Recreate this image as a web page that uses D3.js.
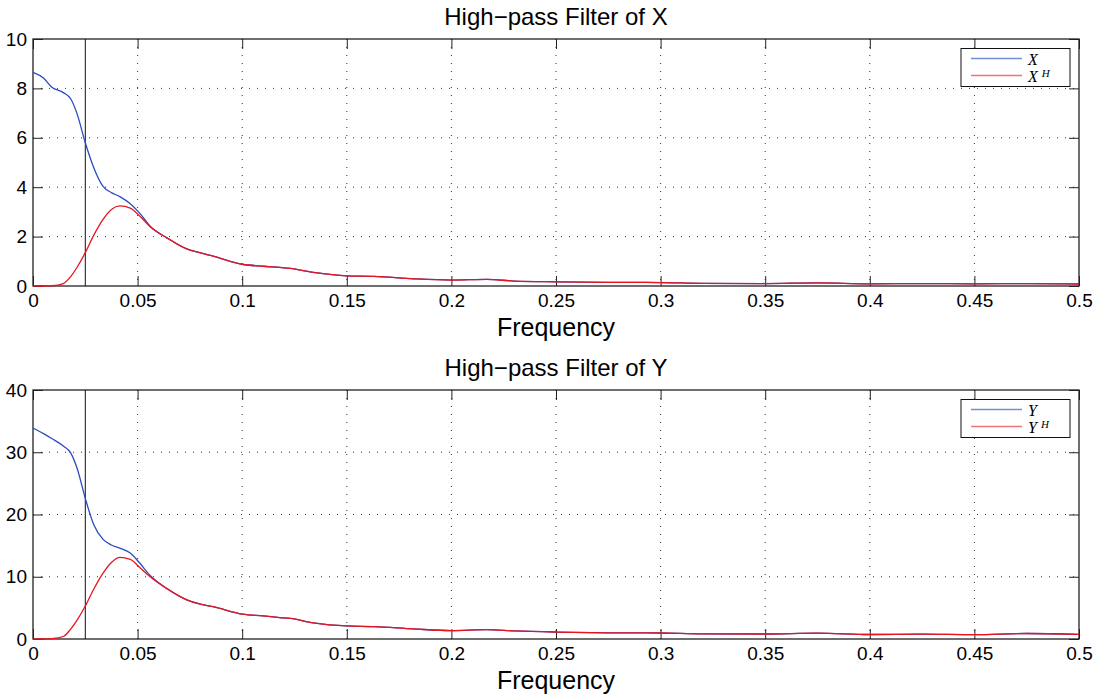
<!DOCTYPE html>
<html>
<head>
<meta charset="utf-8">
<script src="https://cdn.jsdelivr.net/npm/d3@7"></script>
<style>
body { margin: 0; background: #fff; }
text { font-family: "Liberation Sans", Arial, sans-serif; fill: #000; }
.tick text { font-size: 19px; }
.grid line { stroke: #333; stroke-width: 1; stroke-dasharray: 1,7; }
.legend text { font-family: "Liberation Serif", "Times New Roman", serif; font-style: italic; }
</style>
</head>
<body>
<div id="chart"></div>
<script>
// sampled frequencies (shared by both panels)
var freq = [0, 0.005, 0.009, 0.0145, 0.018, 0.021, 0.025, 0.029, 0.0335, 0.0375, 0.0415, 0.0465,
  0.051, 0.056, 0.064, 0.0735, 0.08, 0.0865, 0.1, 0.11, 0.118, 0.123, 0.134, 0.15, 0.163, 0.182,
  0.2, 0.217, 0.23, 0.25, 0.275, 0.3, 0.32, 0.35, 0.375, 0.4, 0.425, 0.45, 0.475, 0.5];

var xSpec = [8.65, 8.42, 8.05, 7.83, 7.58, 6.99, 5.8, 4.8, 4.03, 3.78, 3.62, 3.33,
  2.95, 2.42, 1.95, 1.5, 1.34, 1.2, 0.88, 0.8, 0.75, 0.71, 0.55, 0.41, 0.39, 0.29,
  0.24, 0.27, 0.2, 0.17, 0.15, 0.14, 0.11, 0.1, 0.13, 0.09, 0.1, 0.09, 0.1, 0.08];
var xHigh = [0, 0, 0.01, 0.1, 0.38, 0.75, 1.35, 2.05, 2.7, 3.1, 3.24, 3.15,
  2.83, 2.4, 1.95, 1.5, 1.34, 1.2, 0.88, 0.8, 0.75, 0.71, 0.55, 0.41, 0.39, 0.29,
  0.24, 0.27, 0.2, 0.17, 0.15, 0.14, 0.11, 0.1, 0.13, 0.09, 0.1, 0.09, 0.1, 0.08];

var ySpec = [33.9, 33.0, 32.2, 31.0, 29.9, 27.5, 22.6, 18.4, 16.0, 15.1, 14.6, 13.8,
  12.2, 10.2, 8.1, 6.3, 5.6, 5.15, 4.0, 3.7, 3.45, 3.3, 2.6, 2.1, 2.0, 1.62,
  1.35, 1.5, 1.3, 1.12, 1.0, 0.96, 0.82, 0.8, 0.95, 0.72, 0.78, 0.7, 0.88, 0.75];
var yHigh = [0, 0, 0.05, 0.4, 1.6, 3.0, 5.3, 8.0, 10.6, 12.3, 13.1, 12.8,
  11.5, 10.0, 8.1, 6.3, 5.6, 5.15, 4.0, 3.7, 3.45, 3.3, 2.6, 2.1, 2.0, 1.62,
  1.35, 1.5, 1.3, 1.12, 1.0, 0.96, 0.82, 0.8, 0.95, 0.72, 0.78, 0.7, 0.88, 0.75];

var xTicks = [0, 0.05, 0.1, 0.15, 0.2, 0.25, 0.3, 0.35, 0.4, 0.45, 0.5];
var cutoff = 0.025;

var width = 1102, height = 700;
var svg = d3.select("#chart").append("svg")
  .attr("width", width).attr("height", height);

function makePanel(top, bottom, yMax, yTicks, orig, high, title, name) {
  var left = 33, right = 1079;
  var x = d3.scaleLinear().domain([0, 0.5]).range([left, right]);
  var y = d3.scaleLinear().domain([0, yMax]).range([bottom, top]);
  var g = svg.append("g");

  // grid
  var grid = g.append("g").attr("class", "grid");
  grid.selectAll(".gx").data(xTicks.slice(1, -1)).enter().append("line")
    .attr("x1", d => x(d)).attr("x2", d => x(d)).attr("y1", top).attr("y2", bottom);
  grid.selectAll(".gy").data(yTicks.slice(1, -1)).enter().append("line")
    .attr("x1", left).attr("x2", right).attr("y1", d => y(d)).attr("y2", d => y(d));

  // axes, ticks pointing inward
  g.append("g").attr("transform", "translate(0," + bottom + ")")
    .call(d3.axisBottom(x).tickValues(xTicks).tickFormat(d3.format("")).tickSizeInner(-10).tickSizeOuter(0).tickPadding(8));
  g.append("g").attr("transform", "translate(0," + top + ")")
    .call(d3.axisTop(x).tickValues(xTicks).tickFormat("").tickSizeInner(-10).tickSizeOuter(0));
  g.append("g").attr("transform", "translate(" + left + ",0)")
    .call(d3.axisLeft(y).tickValues(yTicks).tickFormat(d3.format("d")).tickSizeInner(-10).tickSizeOuter(0).tickPadding(6));
  g.append("g").attr("transform", "translate(" + right + ",0)")
    .call(d3.axisRight(y).tickValues(yTicks).tickFormat("").tickSizeInner(-10).tickSizeOuter(0));
  g.selectAll(".domain").remove();
  g.selectAll(".tick line").attr("stroke", "#222");
  g.selectAll(".tick text").style("font-size", "19px");

  g.append("rect").attr("x", left).attr("y", top)
    .attr("width", right - left).attr("height", bottom - top)
    .attr("fill", "none").attr("stroke", "#222").attr("stroke-width", 1.3);

  // cutoff marker
  g.append("line").attr("x1", x(cutoff)).attr("x2", x(cutoff))
    .attr("y1", top).attr("y2", bottom).attr("stroke", "#111").attr("stroke-width", 1);

  var line = d3.line().x((d, i) => x(freq[i])).y(d => y(d)).curve(d3.curveMonotoneX);
  g.append("path").datum(orig).attr("d", line)
    .attr("fill", "none").attr("stroke", "#2a4cc0").attr("stroke-width", 1.3);
  g.append("path").datum(high).attr("d", line)
    .attr("fill", "none").attr("stroke", "#e8141e").attr("stroke-width", 1.3);

  g.append("text").attr("x", (left + right) / 2).attr("y", top - 14)
    .attr("text-anchor", "middle").style("font-size", "24px").text(title);
  g.append("text").attr("x", (left + right) / 2).attr("y", bottom + 50)
    .attr("text-anchor", "middle").style("font-size", "25px").text("Frequency");

  // legend
  var lg = g.append("g").attr("class", "legend");
  lg.append("rect").attr("x", 961).attr("y", top + 9.5).attr("width", 109).attr("height", 38)
    .attr("fill", "#fff").attr("stroke", "#111").attr("stroke-width", 1);
  var items = [{c: "#6f8fd8", sup: ""}, {c: "#f07272", sup: "H"}];
  items.forEach(function(it, i) {
    var yy = top + 19.5 + i * 17;
    lg.append("line").attr("x1", 971).attr("x2", 1022).attr("y1", yy).attr("y2", yy)
      .attr("stroke", it.c).attr("stroke-width", 1.3);
    var t = lg.append("text").attr("x", 1028).attr("y", yy + 6).style("font-size", "16px").text(name);
    if (it.sup) t.append("tspan").attr("dx", 4).attr("dy", -5).style("font-size", "11px").text(it.sup);
  });
}

makePanel(39, 286, 10, [0, 2, 4, 6, 8, 10], xSpec, xHigh, "High\u2212pass Filter of X", "X");
makePanel(390, 639, 40, [0, 10, 20, 30, 40], ySpec, yHigh, "High\u2212pass Filter of Y", "Y");
</script>
</body>
</html>
